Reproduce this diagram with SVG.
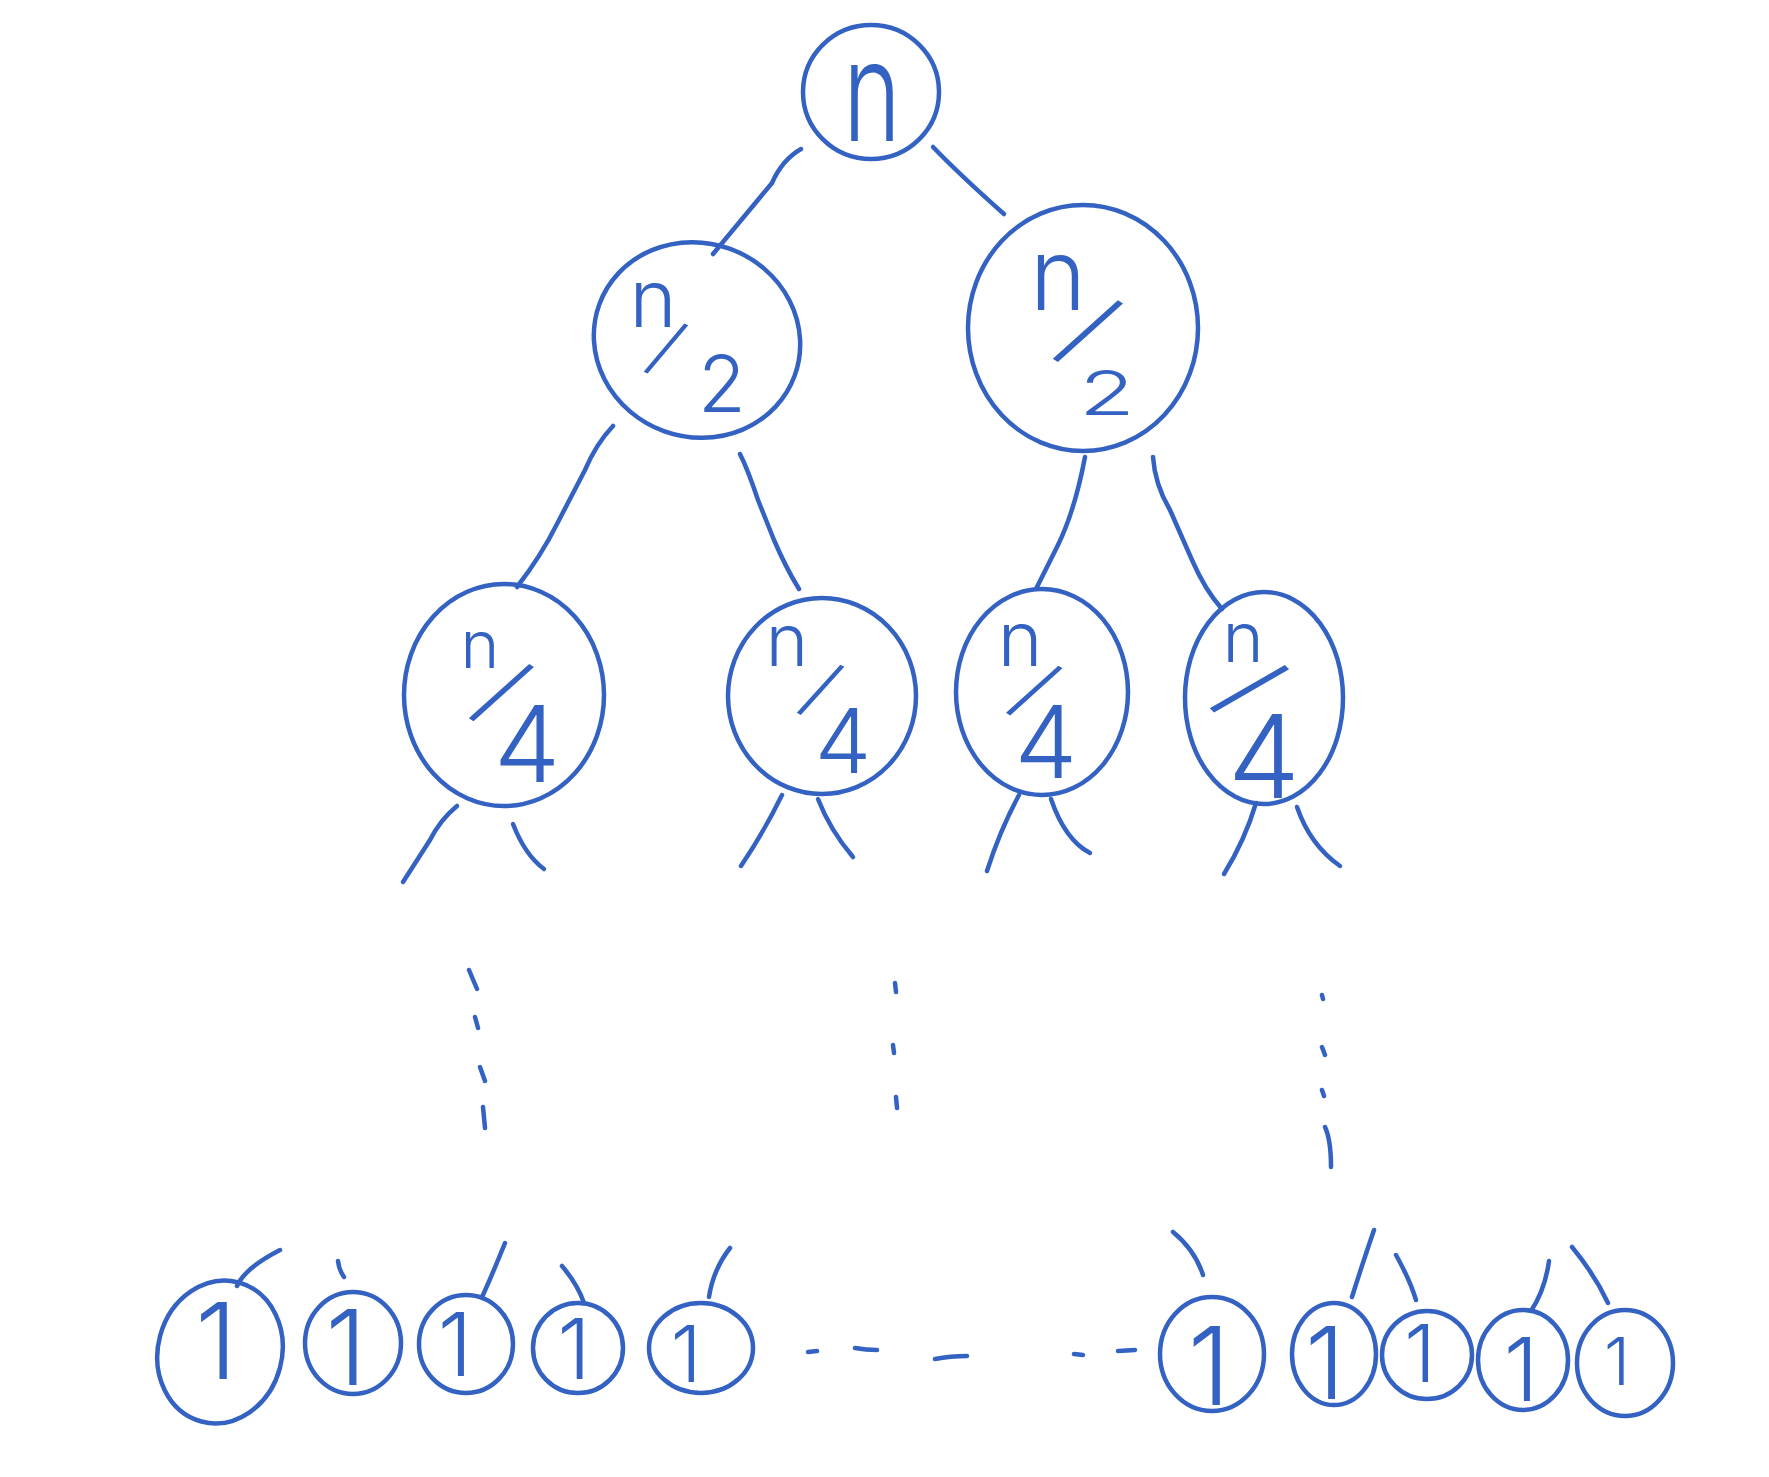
<svg xmlns="http://www.w3.org/2000/svg" width="1769" height="1477" viewBox="0 0 1769 1477">
<style>
.s{fill:none;stroke:#3462c2;stroke-width:4.5;stroke-linecap:round;stroke-linejoin:round}
.d{fill:none;stroke:#3462c2;stroke-width:4.5;stroke-linecap:round}
.t{font-family:Inter,"DejaVu Sans",sans-serif;font-weight:300;fill:#3462c2;text-anchor:middle}
.c{dominant-baseline:central}
</style>
<rect width="1769" height="1477" fill="#ffffff"/>
<g id="connectors">
<path class="s" d="M801,149 Q782,160 772,183 L713,254"/>
<path class="s" d="M933,147 Q960,175 1004,214"/>
<path class="s" d="M613,426 Q596,444 585,470 L557,524 Q541,556 517,587"/>
<path class="s" d="M740,454 Q748,470 758,500 L774,540 Q786,568 799,589"/>
<path class="s" d="M1085,457 Q1075,510 1058,545 L1036,589"/>
<path class="s" d="M1153,457 Q1155,485 1170,510 L1192,560 Q1205,590 1222,609"/>
<path class="s" d="M457,806 Q440,820 430,840 L403,882"/>
<path class="s" d="M513,824 Q525,855 544,869"/>
<path class="s" d="M782,795 Q765,830 741,866"/>
<path class="s" d="M818,799 Q830,830 853,857"/>
<path class="s" d="M1019,795 Q1000,830 987,871"/>
<path class="s" d="M1051,799 Q1065,840 1090,853"/>
<path class="s" d="M1256,803 Q1245,840 1224,874"/>
<path class="s" d="M1297,807 Q1310,845 1340,866"/>
<path class="d" d="M469,970 L477,989 M475,1017 L478,1028 M480,1067 L485,1081 M483,1107 L485,1128"/>
<path class="d" d="M895,983 L896,992 M893,1045 L894,1053 M896,1097 L897,1108"/>
<path class="d" d="M1322,995 L1323,999 M1322,1047 L1325,1055 M1322,1090 L1324,1096 M1325,1127 Q1331,1140 1331,1167"/>
<path class="d" d="M808,1352 L817,1351 M855,1348 Q866,1350 877,1350 M935,1359 Q950,1356 967,1356 M1074,1354 L1083,1355 M1118,1351 L1135,1350"/>
<path class="s" d="M237,1286 Q245,1268 280,1250"/>
<path class="s" d="M338,1261 Q339,1270 344,1277"/>
<path class="s" d="M482,1297 Q490,1280 505,1243"/>
<path class="s" d="M562,1266 Q578,1285 584,1303"/>
<path class="s" d="M709,1297 Q713,1270 730,1248"/>
<path class="s" d="M1173,1232 Q1195,1250 1203,1275"/>
<path class="s" d="M1352,1297 Q1362,1265 1374,1230"/>
<path class="s" d="M1396,1255 Q1410,1280 1416,1300"/>
<path class="s" d="M1531,1311 Q1545,1290 1549,1261"/>
<path class="s" d="M1572,1247 Q1595,1275 1608,1303"/>
</g>
<g id="node-root">
<ellipse class="s" cx="871" cy="92" rx="68" ry="67"/>
<text class="t" x="872" y="141" font-size="140" textLength="58" lengthAdjust="spacingAndGlyphs">n</text>
</g>
<g id="node-half-left">
<ellipse class="s" cx="697" cy="340" rx="104" ry="97" transform="rotate(20 697 340)"/>
<text class="t" x="653" y="327" font-size="80">n</text>
<text class="t c" x="667" y="346" font-size="70" transform="rotate(25 667 346)">/</text>
<text class="t" x="722" y="412" font-size="78">2</text>
</g>
<g id="node-half-right">
<ellipse class="s" cx="1083" cy="328" rx="115" ry="123"/>
<text class="t" x="1058" y="310" font-size="100" textLength="56" lengthAdjust="spacingAndGlyphs">n</text>
<text class="t c" x="1090" y="328" font-size="97" transform="rotate(33 1090 328)">/</text>
<text class="t" x="1107" y="415" font-size="62" textLength="56" lengthAdjust="spacingAndGlyphs">2</text>
</g>
<g id="node-quarter-1">
<ellipse class="s" cx="504" cy="695" rx="100" ry="111"/>
<text class="t" x="480" y="668" font-size="66">n</text>
<text class="t c" x="503" y="690" font-size="90" transform="rotate(33 503 690)">/</text>
<text class="t" x="527" y="782" font-size="106">4</text>
</g>
<g id="node-quarter-2">
<ellipse class="s" cx="822" cy="696" rx="94" ry="98"/>
<text class="t" x="787" y="666" font-size="72">n</text>
<text class="t c" x="822" y="687" font-size="72" transform="rotate(27 822 687)">/</text>
<text class="t" x="843" y="773" font-size="90">4</text>
</g>
<g id="node-quarter-3">
<ellipse class="s" cx="1042" cy="692" rx="86" ry="103"/>
<text class="t" x="1020" y="666" font-size="76">n</text>
<text class="t c" x="1036" y="688" font-size="78" transform="rotate(33 1036 688)">/</text>
<text class="t" x="1046" y="778" font-size="100">4</text>
</g>
<g id="node-quarter-4">
<ellipse class="s" cx="1264" cy="698" rx="79" ry="106"/>
<text class="t" x="1243" y="662" font-size="70">n</text>
<text class="t c" x="1252" y="686" font-size="96" transform="rotate(45 1252 686)">/</text>
<text class="t" x="1264" y="798" font-size="115">4</text>
</g>
<g id="leaf-1"><ellipse class="s" cx="220" cy="1352" rx="62" ry="72" transform="rotate(15 220 1352)"/><text class="t" x="216" y="1379" font-size="106">1</text></g>
<g id="leaf-2"><ellipse class="s" cx="353" cy="1343" rx="48" ry="51"/><text class="t" x="346" y="1385" font-size="104">1</text></g>
<g id="leaf-3"><ellipse class="s" cx="466" cy="1344" rx="47" ry="49"/><text class="t" x="455" y="1376" font-size="88">1</text></g>
<g id="leaf-4"><ellipse class="s" cx="578" cy="1348" rx="45" ry="45"/><text class="t" x="574" y="1379" font-size="84">1</text></g>
<g id="leaf-5"><ellipse class="s" cx="701" cy="1348" rx="52" ry="45"/><text class="t" x="686" y="1382" font-size="78">1</text></g>
<g id="leaf-6"><ellipse class="s" cx="1212" cy="1354" rx="52" ry="57"/><text class="t" x="1209" y="1405" font-size="108">1</text></g>
<g id="leaf-7"><ellipse class="s" cx="1334" cy="1354" rx="42" ry="51"/><text class="t" x="1325" y="1399" font-size="100">1</text></g>
<g id="leaf-8"><ellipse class="s" cx="1427" cy="1355" rx="45" ry="44"/><text class="t" x="1420" y="1382" font-size="80">1</text></g>
<g id="leaf-9"><ellipse class="s" cx="1523" cy="1360" rx="45" ry="50"/><text class="t" x="1521" y="1401" font-size="88">1</text></g>
<g id="leaf-10"><ellipse class="s" cx="1625" cy="1363" rx="48" ry="53"/><text class="t" x="1617" y="1385" font-size="66">1</text></g>
</svg>
